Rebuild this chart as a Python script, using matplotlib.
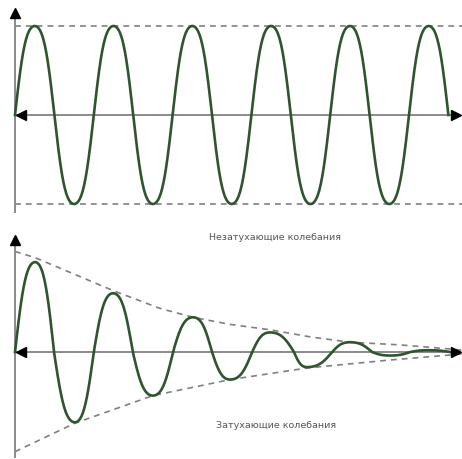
import numpy as np
import matplotlib
matplotlib.use("Agg")
from matplotlib import pyplot as plt

# time in half-periods, displacement in units of the undamped amplitude

# undamped oscillation: knots (zeros and extrema)
free_t = [0, 0.5, 1, 1.5, 2, 2.5, 3, 3.5, 4, 4.5, 5, 5.5,
          6, 6.5, 7, 7.5, 8, 8.5, 9, 9.5, 10, 10.5, 11]
free_y = [0, 1, 0, -1, 0, 1, 0, -1, 0, 1, 0, -1,
          0, 1, 0, -1, 0, 1, 0, -1, 0, 1, 0]
free_level = 1.0

# damped oscillation: knots
damp_t = [0, 0.51, 0.99, 1.52, 2.0, 2.49, 2.99, 3.5, 4.01, 4.52, 5.0, 5.46,
          6.02, 6.47, 7.08, 7.41, 8.05, 8.5, 9.06, 9.52, 10.03, 10.5, 11.04]
damp_y = [0, 1.01, 0, -0.79, 0, 0.66, 0, -0.49, 0, 0.39, 0, -0.31,
          0, 0.22, 0, -0.17, 0, 0.11, 0, -0.04, 0, 0.02, 0]

# envelope of the damped oscillation
env_up_t = [0, 0.51, 2.49, 3.68, 4.52, 5.46, 6.47, 7.49, 8.5, 9.77, 11.04, 11.35]
env_up_y = [1.13, 1.06, 0.69, 0.49, 0.39, 0.31, 0.25, 0.17, 0.11, 0.08, 0.034, 0.02]
env_lo_t = [0, 1.52, 3.5, 5.46, 7.41, 9.52, 11.04, 11.35]
env_lo_y = [-1.12, -0.80, -0.49, -0.31, -0.18, -0.09, -0.034, -0.02]

title_free = "Незатухающие колебания"
title_damp = "Затухающие колебания"

CURVE = "#2f552f"
AXIS = "#8a8a8a"
DASH = "#808080"
FLAT = 0.06  # the drawn waves have rounder tops than a plain sine


def quarter(s):
    th = np.pi / 2 * s
    return (np.sin(th) + FLAT * np.sin(3 * th)) / (1 - FLAT)


def knots_to_curve(t, y, n=60):
    # quarter-wave pieces between zero crossings and extrema
    xs, ys = [], []
    for i in range(len(t) - 1):
        s = np.linspace(0, 1, n)
        if y[i] == 0:
            seg = y[i + 1] * quarter(s)
        else:
            seg = y[i] * quarter(1 - s)
        xs.append(t[i] + (t[i + 1] - t[i]) * s)
        ys.append(seg)
    return np.concatenate(xs), np.concatenate(ys)


def draw_axes(ax, y_top, y_bottom, y_arrow):
    ax.plot([0, 0], [y_bottom, y_top], color=AXIS, lw=1.4, zorder=2)
    ax.plot([0, 11.26], [0, 0], color=AXIS, lw=1.4, zorder=2)
    ax.plot([0], [y_arrow], marker="^", ms=7.5, color="black", zorder=5)
    ax.plot([0.16], [0], marker="<", ms=7.5, color="black", zorder=5)
    ax.plot([11.2], [0], marker=">", ms=7.5, color="black", zorder=5, clip_on=False)


fig = plt.figure(figsize=(4.62, 4.59), dpi=100)
fig.patch.set_facecolor("white")

ax1 = fig.add_axes([0, 230 / 459, 1, 229 / 459])
ax2 = fig.add_axes([0, 0, 1, 230 / 459])

for ax in (ax1, ax2):
    ax.set_xlim(-15 / 39.4, 447 / 39.4)
    ax.axis("off")
ax1.set_ylim(-114 / 89, 115 / 89)
ax2.set_ylim(-107 / 89, 123 / 89)

# top: undamped
ax1.plot([0, 11.35], [free_level, free_level], color=DASH, lw=1.2, dashes=(3.5, 3))
ax1.plot([0, 11.35], [-free_level, -free_level], color=DASH, lw=1.2, dashes=(3.5, 3))
draw_axes(ax1, 1.15, -1.09, 1.15)
x, y = knots_to_curve(free_t, free_y)
ax1.plot(x, y, color=CURVE, lw=1.9, zorder=4)

# bottom: damped
ax2.plot(env_up_t, env_up_y, color=DASH, lw=1.2, dashes=(3.5, 3))
ax2.plot(env_lo_t, env_lo_y, color=DASH, lw=1.2, dashes=(3.5, 3))
draw_axes(ax2, 1.26, -1.18, 1.26)
x, y = knots_to_curve(damp_t, damp_y)
ax2.plot(x, y, color=CURVE, lw=1.9, zorder=4)

fig.text(275 / 462, 1 - 238 / 459, title_free, ha="center", va="center",
         fontsize=6.8, color="#555555")
fig.text(276 / 462, 1 - 425 / 459, title_damp, ha="center", va="center",
         fontsize=6.8, color="#555555")

fig.savefig("out.png", dpi=100, facecolor="white")
